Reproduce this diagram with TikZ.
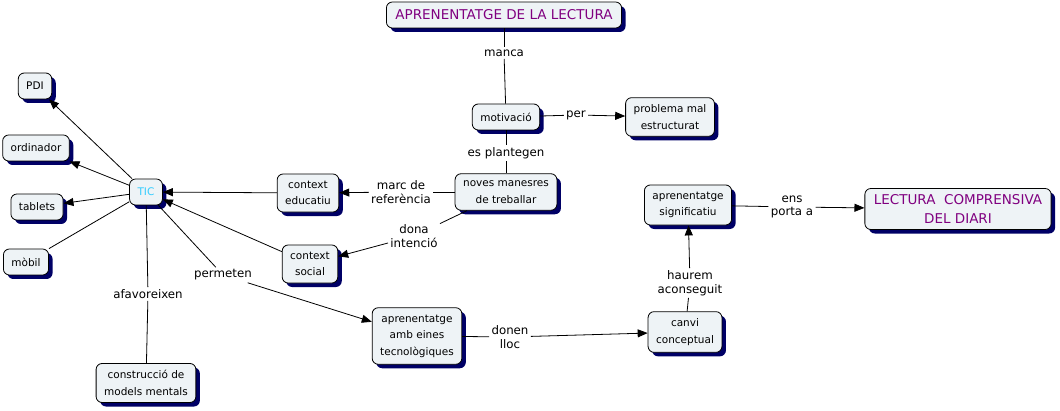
\documentclass[tikz,border=0pt]{standalone}
\usepackage{fontspec}
\setmainfont{DejaVu Sans}
\usetikzlibrary{shadows, arrows.meta}
\definecolor{conceptfill}{HTML}{EEF3F6}
\definecolor{shadowblue}{HTML}{000066}
\definecolor{titlepurple}{HTML}{800080}
\definecolor{ticblue}{HTML}{33CCFF}
\tikzset{
    concept/.style={draw, line width=0.8pt, rounded corners=6pt, fill=conceptfill,
        align=center, font=\fontsize{10.5}{16.5}\selectfont,
        inner xsep=8pt, inner ysep=7pt, minimum height=26pt,
        drop shadow={shadow xshift=4pt, shadow yshift=-4pt, fill=shadowblue, opacity=1}},
    bigconcept/.style={concept, text=titlepurple, font=\fontsize{13.5}{19}\selectfont, inner xsep=9pt, inner ysep=6pt},
    linkword/.style={align=center, inner sep=2pt, font=\fontsize{11.8}{13.5}\selectfont},
    arr/.style={-{Triangle[length=10pt,width=8pt]}},
}
\begin{document}
\begin{tikzpicture}[x=1pt, y=-1pt, line width=0.8pt]
    \useasboundingbox (0,0) rectangle (1060,411);
    % concepts
    \node[bigconcept] (lectura) at (504,15) {APRENENTATGE DE LA LECTURA};
    \node[concept] (motivacio) at (506,117) {motivació};
    \node[concept] (problema) at (670,117) {problema mal\\estructurat};
    \node[concept] (noves) at (506,192) {noves manesres\\de treballar};
    \node[concept] (educatiu) at (308,193) {context\\educatiu};
    \node[concept] (social) at (310,264) {context\\social};
    \node[concept, text=ticblue] (tic) at (146,192) {TIC};
    \node[concept] (pdi) at (35,86) {PDI};
    \node[concept] (ordinador) at (36,148) {ordinador};
    \node[concept] (tablets) at (37,207) {tablets};
    \node[concept] (mobil) at (26,262) {mòbil};
    \node[concept] (models) at (146,383) {construcció de\\models mentals};
    \node[concept] (eines) at (417,336) {aprenentatge\\amb eines\\tecnològiques};
    \node[concept] (canvi) at (685,332) {canvi\\conceptual};
    \node[concept] (significatiu) at (688,205) {aprenentatge\\significatiu};
    \node[bigconcept] (diari) at (958,209) {LECTURA\ \ COMPRENSIVA\\DEL DIARI};
    % linking words
    \node[linkword] (manca) at (504,53) {manca};
    \node[linkword] (per) at (576,115) {per};
    \node[linkword] (plantegen) at (506,153) {es plantegen};
    \node[linkword] (marc) at (401,192) {marc de\\referència};
    \node[linkword] (dona) at (414,236) {dona\\intenció};
    \node[linkword] (permeten) at (223,275) {permeten};
    \node[linkword] (afavoreixen) at (148,294) {afavoreixen};
    \node[linkword] (donen) at (510,337) {donen\\lloc};
    \node[linkword] (haurem) at (690,283) {haurem\\aconseguit};
    \node[linkword] (porta) at (792,207) {ens\\porta a};
    % links
    \path
        (lectura) edge (manca)
        (manca) edge (motivacio)
        (motivacio) edge (per)
        (motivacio) edge (plantegen)
        (plantegen) edge (noves)
        (noves) edge (marc)
        (noves) edge (dona)
        (tic) edge (mobil)
        (tic) edge (afavoreixen)
        (afavoreixen) edge (models)
        (tic) edge (permeten)
        (eines) edge (donen)
        (canvi) edge (haurem)
        (significatiu) edge (porta);
    \path[arr]
        (per) edge (problema)
        (marc) edge (educatiu)
        (dona) edge (social)
        (educatiu) edge (tic)
        (social) edge (tic)
        (tic) edge (pdi)
        (tic) edge (ordinador)
        (tic) edge (tablets)
        (permeten) edge (eines)
        (donen) edge (canvi)
        (haurem) edge (significatiu)
        (porta) edge (diari);
\end{tikzpicture}
\end{document}
